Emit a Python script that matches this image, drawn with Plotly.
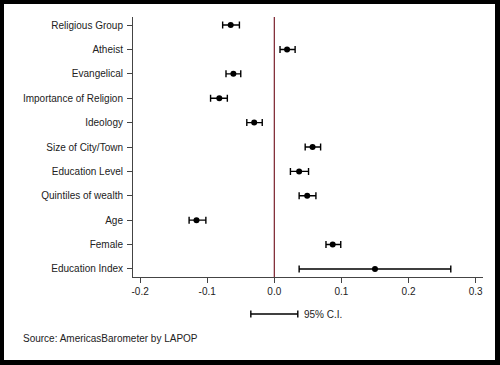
import plotly.graph_objects as go

categories = ["Religious Group", "Atheist", "Evangelical", "Importance of Religion",
              "Ideology", "Size of City/Town", "Education Level", "Quintiles of wealth",
              "Age", "Female", "Education Index"]
estimates = [-0.065, 0.019, -0.061, -0.082, -0.030, 0.057, 0.037, 0.049, -0.116, 0.087, 0.150]
ci_low = [-0.077, 0.0085, -0.072, -0.095, -0.041, 0.046, 0.024, 0.037, -0.127, 0.077, 0.037]
ci_high = [-0.052, 0.031, -0.050, -0.070, -0.018, 0.069, 0.051, 0.062, -0.102, 0.099, 0.263]
x_ticks = [-0.2, -0.1, 0.0, 0.1, 0.2, 0.3]
x_tick_labels = ["-0.2", "-0.1", "0.0", "0.1", "0.2", "0.3"]
legend_ci = [-0.035, 0.035]

FONT = "Liberation Sans, Arial, sans-serif"

err_plus = [h - e for h, e in zip(ci_high, estimates)]
err_minus = [e - l for e, l in zip(estimates, ci_low)]

fig = go.Figure()
fig.add_trace(go.Scatter(
    x=estimates, y=categories, mode="markers",
    marker=dict(color="black", size=6),
    error_x=dict(type="data", symmetric=False, array=err_plus, arrayminus=err_minus,
                 color="black", thickness=1.4, width=3.5),
    showlegend=False, cliponaxis=False,
))

W, H = 500, 365
L, R, T, B = 133, 17, 17, 88
pw, ph = W - L - R, H - T - B

def px_x(p):
    return (p - L) / pw

def px_y(p):
    return (H - B - p) / ph

shapes = []
# zero reference line
shapes.append(dict(type="line", xref="x", yref="paper", x0=0, x1=0, y0=0, y1=1,
                   line=dict(color="#7a1f2b", width=1.2), layer="above"))
# legend CI bar
ly = px_y(314)
shapes.append(dict(type="line", xref="x", yref="paper", x0=legend_ci[0], x1=legend_ci[1],
                   y0=ly, y1=ly, line=dict(color="black", width=1.4)))
for xv in legend_ci:
    shapes.append(dict(type="line", xref="x", yref="paper", x0=xv, x1=xv,
                       y0=px_y(317.5), y1=px_y(310.5), line=dict(color="black", width=1.4)))
# black frame
for (x0, x1, y0, y1) in [(0, 4, 0, 365), (495, 500, 0, 365), (0, 500, 0, 4), (0, 500, 360, 365)]:
    shapes.append(dict(type="rect", xref="paper", yref="paper",
                       x0=px_x(x0), x1=px_x(x1), y0=px_y(y1), y1=px_y(y0),
                       fillcolor="black", line=dict(width=0), layer="above"))

fig.update_layout(
    width=W, height=H,
    margin=dict(l=L, r=R, t=T, b=B, pad=0),
    paper_bgcolor="white", plot_bgcolor="white",
    font=dict(family=FONT, size=10, color="#222"),
    shapes=shapes,
    annotations=[
        dict(text="95% C.I.", xref="paper", yref="paper", x=px_x(302), y=ly,
             xanchor="left", yanchor="middle", showarrow=False, font=dict(size=10)),
        dict(text="Source: AmericasBarometer by LAPOP", xref="paper", yref="paper",
             x=px_x(21), y=px_y(338), xanchor="left", yanchor="middle",
             showarrow=False, font=dict(size=10)),
    ],
    xaxis=dict(range=[-0.2106, 0.311], tickvals=x_ticks, ticktext=x_tick_labels,
               showgrid=False, zeroline=False, showline=True, linecolor="#444", linewidth=1,
               ticks="outside", ticklen=5, tickcolor="#444", tickfont=dict(size=10),
               fixedrange=True),
    yaxis=dict(categoryorder="array", categoryarray=categories,
               range=[len(categories) - 1 + 0.33, -0.33],
               showgrid=False, zeroline=False, showline=True, linecolor="#444", linewidth=1,
               ticks="outside", ticklen=5, tickcolor="#444", tickfont=dict(size=10),
               ticklabelstandoff=2, fixedrange=True),
)

fig.write_html("out.html", config=dict(displayModeBar=False),
               post_script="document.body.style.margin='0';document.body.style.padding='0';"
                           "document.body.style.overflow='hidden';")
